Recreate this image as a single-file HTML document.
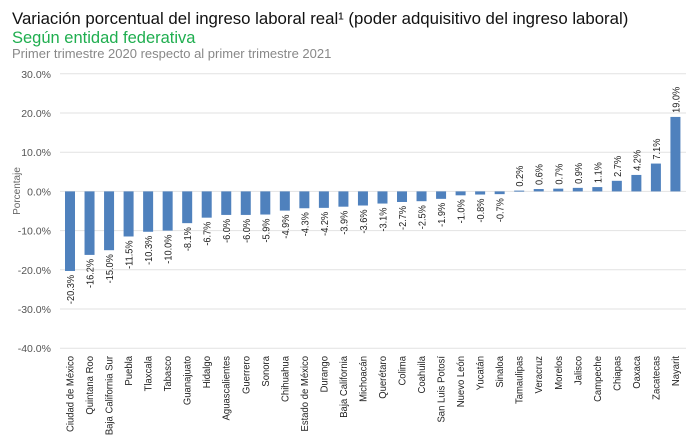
<!DOCTYPE html>
<html><head><meta charset="utf-8"><style>
body{margin:0;background:#fff;width:700px;height:438px;overflow:hidden;font-family:"Liberation Sans",Arial,sans-serif}
</style></head><body>
<svg width="700" height="438" xmlns="http://www.w3.org/2000/svg" font-family="Liberation Sans, Arial, sans-serif">
<text x="12" y="24" font-size="16.8" fill="#111">Variación porcentual del ingreso laboral real¹ (poder adquisitivo del ingreso laboral)</text>
<text x="12" y="43" font-size="16.5" fill="#1fae4f">Según entidad federativa</text>
<text x="12" y="58" font-size="13" fill="#888">Primer trimestre 2020 respecto al primer trimestre 2021</text>
<g id="grid" stroke="#e2e2e2" stroke-width="1"></g>
<g id="yl" font-size="10.5" fill="#555" text-anchor="end"></g>
<text transform="translate(20,191) rotate(-90)" font-size="10" fill="#666" text-anchor="middle">Porcentaje</text>
<g id="bars" fill="#4f81bd"></g>
<g id="vl" font-size="10" fill="#222"></g>
<g id="cl" font-size="10" fill="#222"></g>
</svg>
<script>
const ns="http://www.w3.org/2000/svg";
const d=[["Ciudad de México",-20.3],["Quintana Roo",-16.2],["Baja California Sur",-15.0],["Puebla",-11.5],["Tlaxcala",-10.3],["Tabasco",-10.0],["Guanajuato",-8.1],["Hidalgo",-6.7],["Aguascalientes",-6.0],["Guerrero",-6.0],["Sonora",-5.9],["Chihuahua",-4.9],["Estado de México",-4.3],["Durango",-4.2],["Baja California",-3.9],["Michoacán",-3.6],["Querétaro",-3.1],["Colima",-2.7],["Coahuila",-2.5],["San Luis Potosí",-1.9],["Nuevo León",-1.0],["Yucatán",-0.8],["Sinaloa",-0.7],["Tamaulipas",0.2],["Veracruz",0.6],["Morelos",0.7],["Jalisco",0.9],["Campeche",1.1],["Chiapas",2.7],["Oaxaca",4.2],["Zacatecas",7.1],["Nayarit",19.0]];
const y0=191.4,k=3.92;
function el(t,a,p,txt){const e=document.createElementNS(ns,t);for(const i in a)e.setAttribute(i,a[i]);if(txt!=null)e.textContent=txt;document.getElementById(p).appendChild(e);}
for(let v=30;v>=-40;v-=10){const y=y0-v*k;el("line",{x1:60,x2:686,y1:y,y2:y},"grid");el("text",{x:51,y:y+4},"yl",v.toFixed(1)+"%");}
d.forEach((r,i)=>{const cx=70+i*19.53,v=r[1];const h=Math.abs(v)*k;const top=v>=0?y0-h:y0;
el("rect",{x:cx-5,y:top,width:10,height:Math.max(h,1)},"bars");
const s=v.toFixed(1)+"%";
if(v<0){el("text",{transform:`translate(${cx+4},${y0+h+4}) rotate(-90) scale(0.92,1)`,"text-anchor":"end"},"vl",s);}
else{el("text",{transform:`translate(${cx+4},${y0-h-4}) rotate(-90) scale(0.92,1)`,"text-anchor":"start"},"vl",s);}
el("text",{transform:`translate(${cx+3.5},356) rotate(-90) scale(0.95,1)`,"text-anchor":"end"},"cl",r[0]);
});
</script>
</body></html>
